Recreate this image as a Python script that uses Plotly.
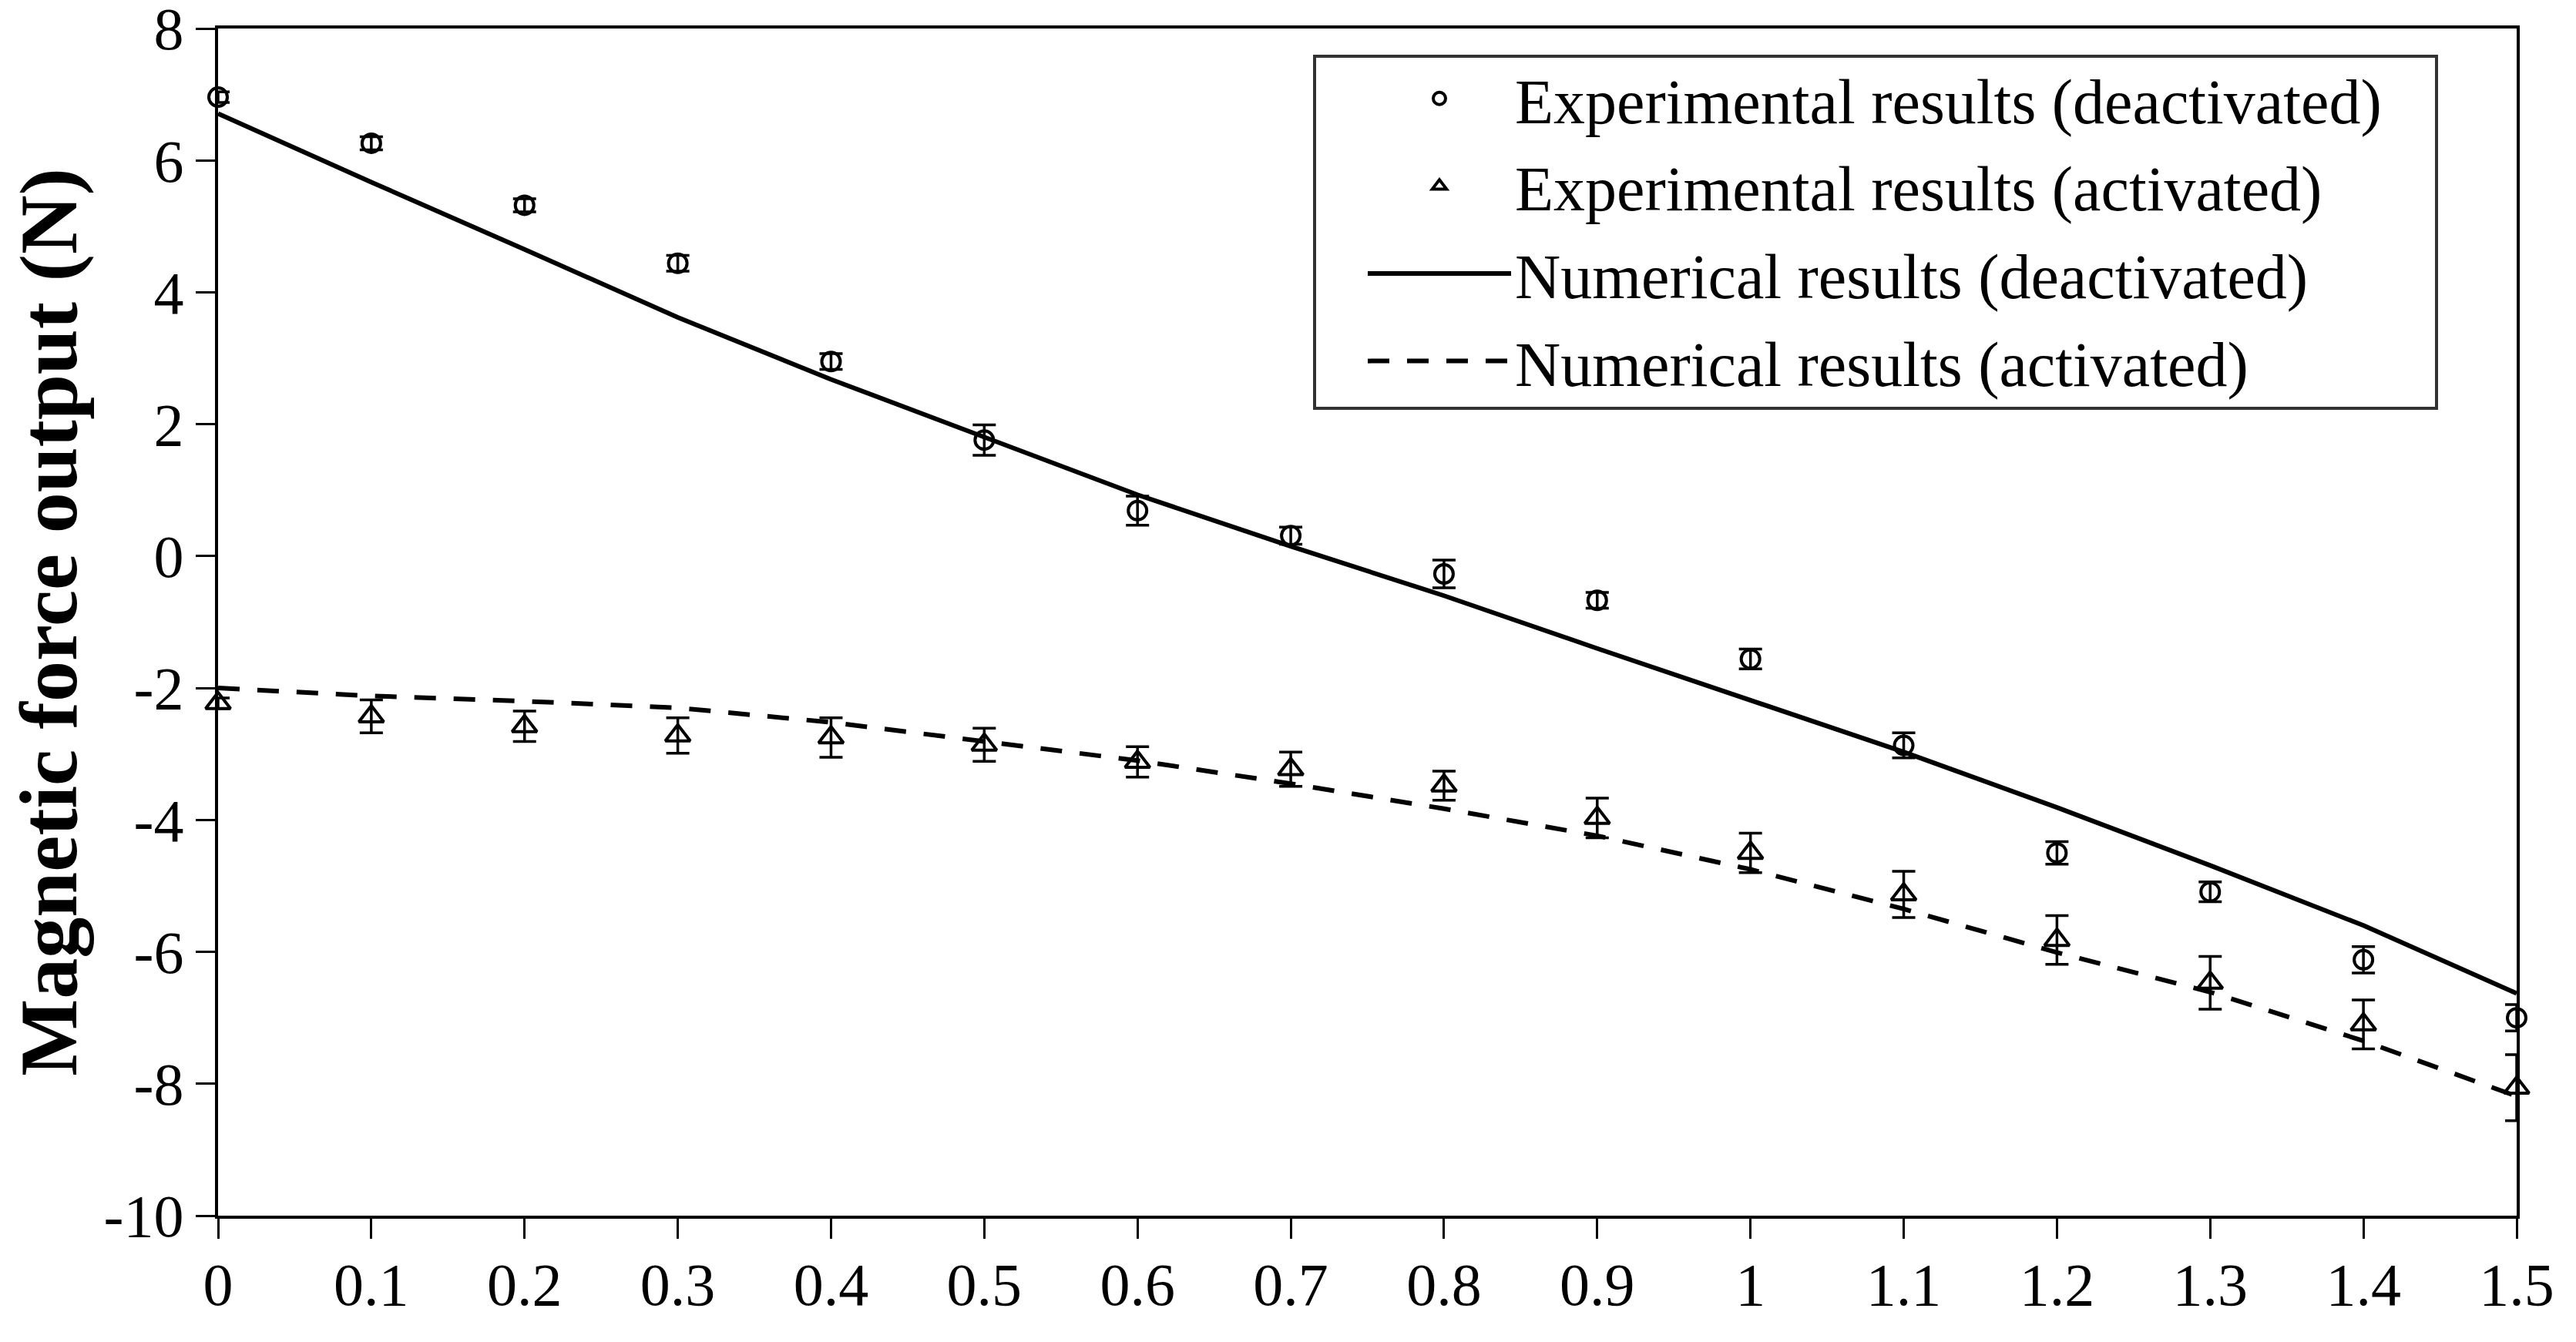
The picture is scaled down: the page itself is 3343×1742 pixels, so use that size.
import plotly.graph_objects as go

# ---- data ----
x_vals = [0, 0.1, 0.2, 0.3, 0.4, 0.5, 0.6, 0.7, 0.8, 0.9, 1.0, 1.1, 1.2, 1.3, 1.4, 1.5]

exp_deactivated = [6.96, 6.26, 5.32, 4.44, 2.95, 1.76, 0.69, 0.31, -0.27, -0.67,
                   -1.56, -2.87, -4.50, -5.09, -6.12, -7.00]
exp_deactivated_err = [0.08, 0.10, 0.10, 0.12, 0.12, 0.23, 0.22, 0.13, 0.21, 0.12,
                       0.15, 0.19, 0.17, 0.15, 0.20, 0.20]

exp_activated = [-2.23, -2.43, -2.58, -2.72, -2.75, -2.86, -3.12, -3.23, -3.48, -3.97,
                 -4.50, -5.13, -5.82, -6.47, -7.10, -8.06]
exp_activated_err = [0.08, 0.25, 0.23, 0.27, 0.30, 0.25, 0.23, 0.26, 0.22, 0.30,
                     0.30, 0.35, 0.37, 0.40, 0.37, 0.50]

num_deactivated = [6.71, 5.67, 4.65, 3.62, 2.68, 1.80, 0.93, 0.15, -0.60, -1.40,
                   -2.18, -2.97, -3.81, -4.69, -5.60, -6.63]
num_activated = [-2.00, -2.12, -2.20, -2.30, -2.52, -2.81, -3.10, -3.45, -3.83, -4.24,
                 -4.75, -5.35, -6.01, -6.61, -7.35, -8.19]

y_tickvals = [-10, -8, -6, -4, -2, 0, 2, 4, 6, 8]
y_ticktext = ["-10", "-8", "-6", "-4", "-2", "0", "2", "4", "6", "8"]

labels = ["Experimental results (deactivated)",
          "Experimental results (activated)",
          "Numerical results (deactivated)",
          "Numerical results (activated)"]

FONT = "Liberation Serif, Times New Roman, serif"

fig = go.Figure()

fig.add_trace(go.Scatter(
    x=x_vals, y=exp_deactivated, mode="markers", name=labels[0], legendgroup="a",
    marker=dict(symbol="circle-open", size=24, color="black", line=dict(width=4, color="black")),
    error_y=dict(type="data", array=exp_deactivated_err, visible=True,
                 color="black", thickness=3.5, width=15),
    cliponaxis=False,
))
fig.add_trace(go.Scatter(
    x=x_vals, y=exp_activated, mode="markers", name=labels[1], legendgroup="b",
    marker=dict(symbol="triangle-up-open", size=28, color="black", line=dict(width=4, color="black")),
    error_y=dict(type="data", array=exp_activated_err, visible=True,
                 color="black", thickness=3.5, width=15),
    cliponaxis=False,
))
fig.add_trace(go.Scatter(
    x=x_vals, y=num_deactivated, mode="lines", name=labels[2], legendgroup="c",
    line=dict(color="black", width=6),
    cliponaxis=False,
))
fig.add_trace(go.Scatter(
    x=x_vals, y=num_activated, mode="lines", name=labels[3], legendgroup="d",
    line=dict(color="black", width=6, dash="28px,23px"),
    cliponaxis=False,
))

L, R, T, B = 283, 77, 37, 164
W, H = 3343, 1742
pw, ph = W - L - R, H - T - B

def px_x(p):
    return (p - L) / pw

def px_y(p):
    return (H - B - p) / ph

# legend frame
fig.add_shape(type="rect", xref="paper", yref="paper",
              x0=px_x(1706), x1=px_x(3162), y0=px_y(530), y1=px_y(73),
              line=dict(color="#333333", width=4), fillcolor="white", layer="below")

fig.update_layout(
    width=W, height=H,
    margin=dict(l=L, r=R, t=T, b=B, pad=0, autoexpand=False),
    paper_bgcolor="white", plot_bgcolor="white",
    font=dict(family=FONT, color="black", size=78),
    showlegend=True,
    legend=dict(
        x=px_x(1770), y=px_y(68), xanchor="left", yanchor="top",
        bgcolor="rgba(0,0,0,0)", borderwidth=0,
        font=dict(family=FONT, size=82, color="black"),
        itemwidth=186, tracegroupgap=4,
    ),
    xaxis=dict(
        range=[0, 1.5], tickmode="linear", tick0=0, dtick=0.1,
        showgrid=False, zeroline=False, automargin=False,
        showline=True, linecolor="black", linewidth=4, mirror=True,
        ticks="outside", ticklen=26, tickwidth=3, tickcolor="black",
        tickfont=dict(family=FONT, size=78, color="black"),
        ticklabelstandoff=-8, ticklabeloverflow="allow",
    ),
    yaxis=dict(
        range=[-10, 8], tickmode="array", tickvals=y_tickvals, ticktext=y_ticktext,
        showgrid=False, zeroline=False, automargin=False,
        showline=True, linecolor="black", linewidth=4, mirror=True,
        ticks="outside", ticklen=25, tickwidth=3, tickcolor="black",
        tickfont=dict(family=FONT, size=78, color="black"),
        ticklabeloverflow="allow",
        title=dict(text="<b>Magnetic force output (N)</b>",
                   font=dict(family=FONT, size=106, color="black"), standoff=0),
    ),
)

fig.write_html("out.html", config={"displayModeBar": False},
               post_script="document.body.style.margin='0';")
